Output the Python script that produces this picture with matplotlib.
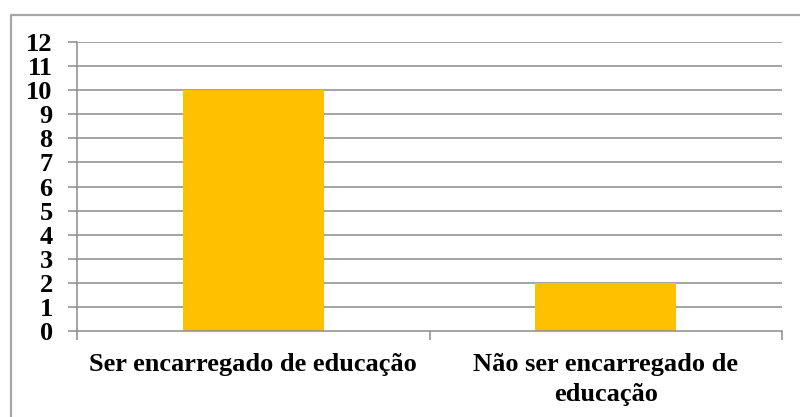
import matplotlib
matplotlib.use("Agg")
import matplotlib.pyplot as plt
from matplotlib.lines import Line2D

categories = ["Ser encarregado de educação", "Não ser encarregado de\neducação"]
values = [10, 2]
y_ticks = list(range(0, 13))

plt.rcParams["font.family"] = ["Liberation Serif", "DejaVu Serif"]
plt.rcParams["font.weight"] = "bold"

W, H = 800, 417
fig = plt.figure(figsize=(W / 100, H / 100), dpi=100)
fig.patch.set_facecolor("white")

# outer frame (open at right and bottom)
fx, fy = 10.5 / W, 1 - 14.5 / H
fig.add_artist(Line2D([fx, fx, 1.02], [-0.05, fy, fy], transform=fig.transFigure,
                      color="#a6a6a6", lw=1.6))

ax = fig.add_axes([77 / W, 1 - 331 / H, (782 - 77) / W, (331 - 42) / H])
grid_c = "#8c8c8c"
x = list(range(len(categories)))
ax.bar(x, values, width=0.4, color="#FFC000", zorder=3)

ax.set_xlim(-0.5, len(categories) - 0.5)
ax.set_ylim(0, 12)
ax.set_yticks(y_ticks)
ax.set_yticklabels([str(v) for v in y_ticks], fontsize=19, fontweight="bold")
for v in y_ticks[1:]:
    ax.axhline(v, color=grid_c, lw=1.1, zorder=1)

ax.set_xticks([i - 0.5 for i in range(len(categories) + 1)])
ax.set_xticklabels([])
ax.set_xticks(x, minor=True)
ax.set_xticklabels(categories, minor=True, fontsize=19, fontweight="bold",
                   linespacing=1.4)
ax.tick_params(axis="x", which="major", length=6.5, width=1.1, color=grid_c)
ax.tick_params(axis="x", which="minor", length=0, pad=16)
ax.tick_params(axis="y", length=6.5, width=1.1, color=grid_c, pad=11)

for s in ["top", "right"]:
    ax.spines[s].set_visible(False)
for s in ["left", "bottom"]:
    ax.spines[s].set_color(grid_c)
    ax.spines[s].set_linewidth(1.1)
ax.spines["bottom"].set_zorder(4)

fig.savefig("out.png", dpi=100)
